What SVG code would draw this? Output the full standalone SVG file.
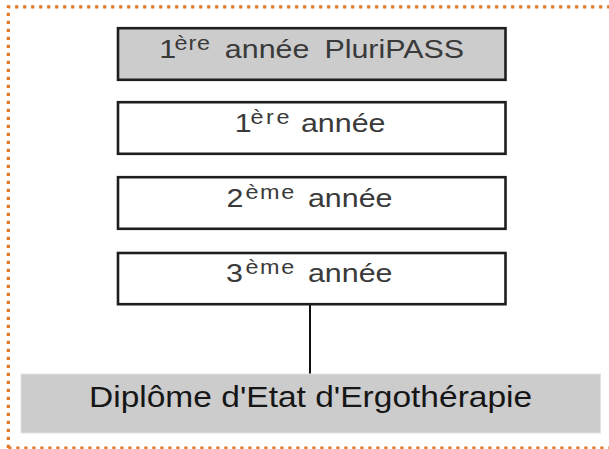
<svg xmlns="http://www.w3.org/2000/svg" width="609" height="449" viewBox="0 0 609 449">
<style>
.frame{fill:none;stroke:#e07a28;stroke-width:3.2;stroke-dasharray:3.2 4.8}
.box{stroke:#1e1e1e;stroke-width:2.6}
.t{font-family:"Liberation Sans",Arial,sans-serif;font-size:26px;fill:#3a3a3a}
.sup{font-size:20px;letter-spacing:1.4px}
.dip{font-family:"Liberation Sans",Arial,sans-serif;font-size:30px;fill:#161616}
</style>
<rect width="609" height="449" fill="#ffffff"/>
<path class="frame" d="M8.3 448 L8.3 6.8 L609 6.8 M8.3 448 L609 448"/>
<g id="connectors">
<line x1="310" y1="305" x2="310" y2="374" stroke="#111" stroke-width="2"/>
</g>
<g id="n1">
<rect class="box" x="118" y="28.2" width="387.5" height="51.6" fill="#cccccc"/>
<text class="t" transform="scale(1.17 1)" y="58.3"><tspan x="136.2">1</tspan><tspan class="sup" x="149.1" y="50.5" style="letter-spacing:0.8px">ère</tspan><tspan x="192.2" y="58.3">année</tspan><tspan x="277.3">PluriPASS</tspan></text>
</g>
<g id="n2">
<rect class="box" x="118" y="102.2" width="387.5" height="51.6" fill="#ffffff"/>
<text class="t" transform="scale(1.17 1)" y="131.7"><tspan x="200.7">1</tspan><tspan class="sup" x="214.1" y="123.6" style="letter-spacing:2.2px">ère</tspan><tspan x="257.2" y="131.7">année</tspan></text>
</g>
<g id="n3">
<rect class="box" x="118" y="177.2" width="387.5" height="51.6" fill="#ffffff"/>
<text class="t" transform="scale(1.17 1)" y="206.8"><tspan x="193.5">2</tspan><tspan class="sup" x="209.8" y="198.7">ème</tspan><tspan x="263.2" y="206.8">année</tspan></text>
</g>
<g id="n4">
<rect class="box" x="118" y="253" width="387.5" height="51.2" fill="#ffffff"/>
<text class="t" transform="scale(1.17 1)" y="281.7"><tspan x="193.1">3</tspan><tspan class="sup" x="209.8" y="273.6">ème</tspan><tspan x="263.2" y="281.7">année</tspan></text>
</g>
<g id="n5">
<rect x="21" y="374" width="579.5" height="59" fill="#cccccc" stroke="#e2e2e2" stroke-width="1"/>
<text class="dip" transform="scale(1.118 1)" x="79.6" y="407.3">Diplôme d'Etat d'Ergothérapie</text>
</g>
</svg>
